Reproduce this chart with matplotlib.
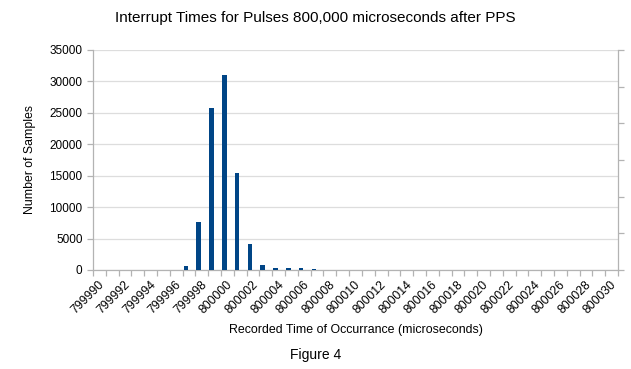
import numpy as np
import matplotlib.pyplot as plt
import matplotlib.transforms as mtransforms

plt.rcParams['font.family'] = ['Liberation Sans', 'DejaVu Sans']

# recorded times (microseconds) and sample counts
tempos = list(range(799990, 800031))
contagens = [0, 0, 0, 0, 0, 0, 50, 700, 7600, 25700, 31100, 15400, 4200, 850,
             300, 300, 250, 120, 60, 50, 40, 30, 20, 10, 10, 0, 0, 0, 0, 0,
             0, 0, 0, 0, 0, 0, 0, 0, 0, 0, 0]
rotulos = [str(t) if i % 2 == 0 else '' for i, t in enumerate(tempos)]

cinza = '#b3b3b3'
x = np.arange(len(tempos))

fig = plt.figure(figsize=(6.31, 3.69), dpi=100)
ax = fig.add_axes([0.1474, 0.2683, 0.8320, 0.5962])
# bars sit in the left part of each category slot (as in the original chart)
ax.bar(x - 0.25, contagens, width=0.36, color='#004586', zorder=3)

ax.set_xlim(-0.5, len(tempos) - 0.5)
ax.set_ylim(0, 35000)
ax.set_yticks(np.arange(0, 35001, 5000))
ax.yaxis.grid(True, color='#dddddd', linewidth=0.9, zorder=0)

# tick marks on category boundaries, labels under category centres
ax.set_xticks(np.arange(-0.5, len(tempos)), [])
ax.set_xticks(x[::2], [rotulos[i] for i in x[::2]], minor=True)
ax.tick_params(axis='x', which='major', length=4.5, color=cinza, width=0.9)
ax.tick_params(axis='x', which='minor', length=0, labelsize=8.8, pad=6)
desloc = mtransforms.ScaledTranslation(-1 / 100, 0, fig.dpi_scale_trans)
for t in ax.get_xticklabels(minor=True):
    t.set_rotation(45)
    t.set_ha('right')
    t.set_rotation_mode('anchor')
    t.set_transform(t.get_transform() + desloc)
ax.tick_params(axis='y', length=4.5, color=cinza, width=0.9, labelsize=8.5, pad=3)

for s in ['top', 'right']:
    ax.spines[s].set_visible(False)
for s in ['left', 'bottom']:
    ax.spines[s].set_color(cinza)
    ax.spines[s].set_linewidth(0.9)

ax2 = ax.twinx()
ax2.set_ylim(0, 6)
ax2.set_yticks(range(7), [])
ax2.tick_params(axis='y', length=4.5, color=cinza, width=0.9)
for s in ['top', 'left', 'bottom']:
    ax2.spines[s].set_visible(False)
ax2.spines['right'].set_color(cinza)
ax2.spines['right'].set_linewidth(0.9)

ax.set_ylabel('Number of Samples', fontsize=8.8, labelpad=10)
ax.set_xlabel('Recorded Time of Occurrance (microseconds)', fontsize=8.9, labelpad=6)
fig.text(0.5, 0.95, 'Interrupt Times for Pulses 800,000 microseconds after PPS',
         ha='center', va='center', fontsize=11.0)
fig.text(0.5, 0.038, 'Figure 4', ha='center', va='center', fontsize=10)

plt.savefig('out.png', dpi=100)
